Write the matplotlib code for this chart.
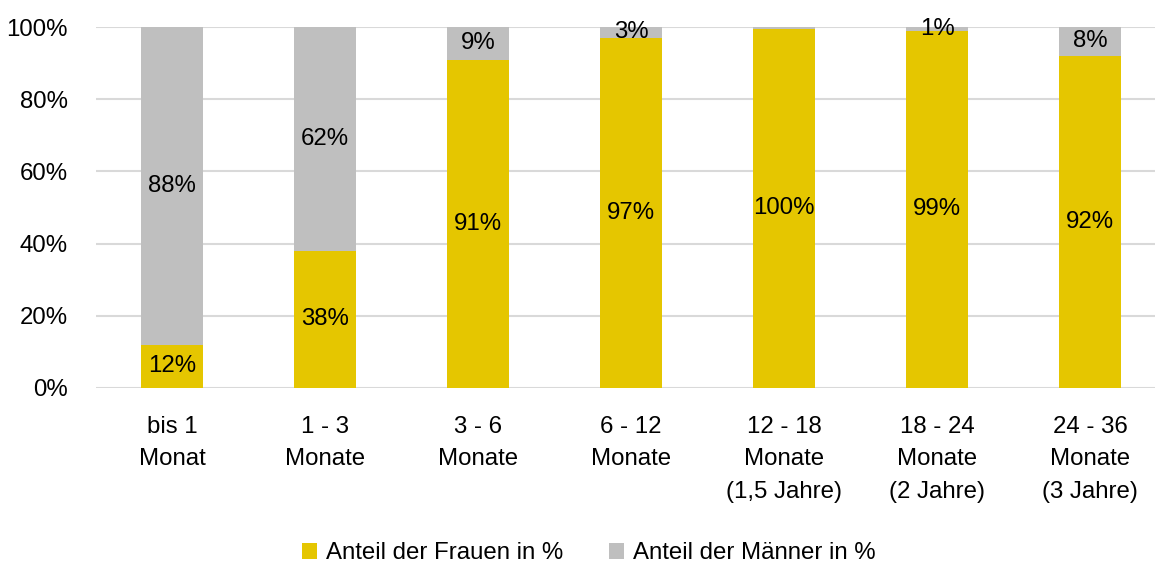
import numpy as np
import matplotlib
matplotlib.use("Agg")
import matplotlib.pyplot as plt

plt.rcParams['font.family'] = ['Liberation Sans', 'DejaVu Sans']

categories = ["bis 1\nMonat", "1 - 3\nMonate", "3 - 6\nMonate", "6 - 12\nMonate",
              "12 - 18\nMonate\n(1,5 Jahre)", "18 - 24\nMonate\n(2 Jahre)",
              "24 - 36\nMonate\n(3 Jahre)"]
frauen = [12, 38, 91, 97, 99.5, 99, 92]
maenner = [88, 62, 9, 3, 0.5, 1, 8]
yticks = [0, 20, 40, 60, 80, 100]

col_f = "#E5C600"
col_m = "#BFBFBF"

fig = plt.figure(figsize=(11.55, 5.63), dpi=100)
ax = fig.add_axes([0.083, 0.311, 0.927, 0.641])

x = np.arange(len(categories))
w = 0.405
b1 = ax.bar(x, frauen, w, color=col_f, label="Anteil der Frauen in %", zorder=2)
b2 = ax.bar(x, maenner, w, bottom=frauen, color=col_m, label="Anteil der Männer in %", zorder=2)

fs = 17.3
for i in range(len(x)):
    for val, bot in ((frauen[i], 0), (maenner[i], frauen[i])):
        txt = f"{val:.0f}"
        if txt == "0":
            continue
        ax.text(x[i], bot + val / 2, txt + "%", ha="center", va="center",
                fontsize=fs, color="black", zorder=3)

ax.set_xlim(-0.5, len(x) - 0.5)
ax.set_ylim(0, 100)
ax.set_yticks(yticks)
ax.set_yticklabels([f"{t}%" for t in yticks], fontsize=fs)
ax.set_xticks(x)
ax.set_xticklabels(categories, fontsize=fs, linespacing=1.62, va="top")
ax.tick_params(axis="y", length=0, pad=20)
ax.tick_params(axis="x", length=0, pad=20)
ax.yaxis.grid(True, color="#D9D9D9", linewidth=1.5, zorder=0)
ax.set_axisbelow(True)
for s in ax.spines.values():
    s.set_visible(False)

fig.legend(handles=[b1, b2], loc="lower center", bbox_to_anchor=(0.51, -0.041),
           ncol=2, frameon=False, fontsize=fs, handlelength=0.6, handleheight=0.6,
           handletextpad=0.4, columnspacing=1.9)

fig.savefig("out.png", dpi=100)
